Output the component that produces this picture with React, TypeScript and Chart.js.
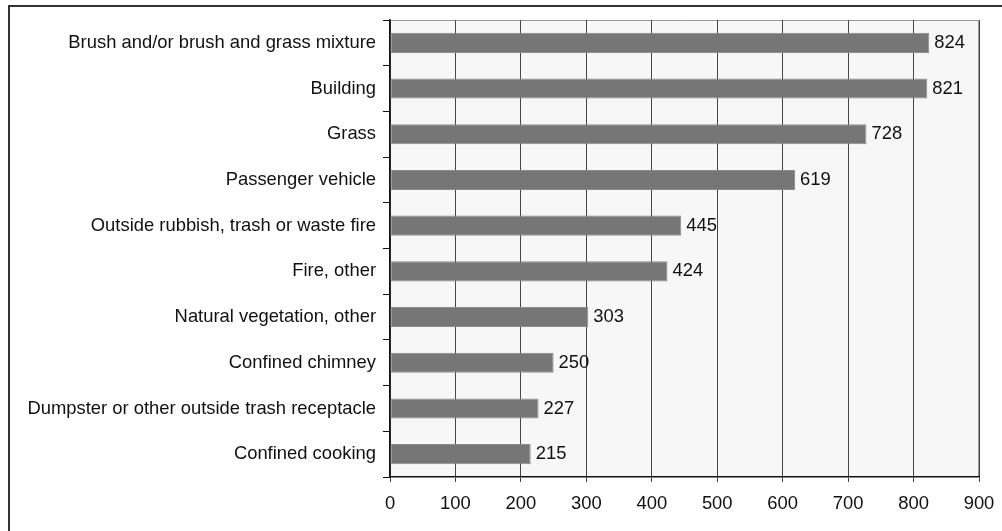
import React, { useEffect, useRef } from "react";
import { Chart, registerables } from "chart.js";

Chart.register(...registerables);

const categories = [
  "Brush and/or brush and grass mixture",
  "Building",
  "Grass",
  "Passenger vehicle",
  "Outside rubbish, trash or waste fire",
  "Fire, other",
  "Natural vegetation, other",
  "Confined chimney",
  "Dumpster or other outside trash receptacle",
  "Confined cooking",
];
const values = [824, 821, 728, 619, 445, 424, 303, 250, 227, 215];
const xMin = 0;
const xMax = 900;
const xStep = 100;

const FONT = "Liberation Sans, Arial, sans-serif";
const FS = 18.4;
const CW = 1030;

const plotBg = {
  id: "plotBg",
  beforeDraw(chart: any) {
    const { ctx, chartArea } = chart;
    if (!chartArea) return;
    ctx.save();
    ctx.fillStyle = "#f7f7f7";
    ctx.fillRect(chartArea.left, chartArea.top, chartArea.right - chartArea.left, chartArea.bottom - chartArea.top);
    ctx.strokeStyle = "#9a9a9a";
    ctx.lineWidth = 1;
    ctx.beginPath();
    ctx.moveTo(chartArea.left, chartArea.top + 0.5);
    ctx.lineTo(chartArea.right - 0.5, chartArea.top + 0.5);
    ctx.lineTo(chartArea.right - 0.5, chartArea.bottom);
    ctx.stroke();
    ctx.restore();
  },
};

const valueLabels = {
  id: "valueLabels",
  afterDatasetsDraw(chart: any) {
    const { ctx } = chart;
    const meta = chart.getDatasetMeta(0);
    ctx.save();
    ctx.font = `${FS}px ${FONT}`;
    ctx.fillStyle = "#111";
    ctx.textAlign = "left";
    ctx.textBaseline = "middle";
    meta.data.forEach((bar: any, i: number) => {
      ctx.fillText(String(values[i]), bar.x + 5, bar.y);
    });
    ctx.restore();
  },
};

export default function App() {
  const ref = useRef<HTMLCanvasElement | null>(null);
  useEffect(() => {
    if (!ref.current) return;
    const chart = new Chart(ref.current, {
      type: "bar",
      data: {
        labels: categories,
        datasets: [
          {
            data: values,
            backgroundColor: "#767676",
            borderColor: "#8c8c8c",
            borderWidth: 1,
            borderSkipped: false,
            barPercentage: 0.44,
            categoryPercentage: 1,
          },
        ],
      },
      options: {
        indexAxis: "y",
        animation: false,
        responsive: false,
        maintainAspectRatio: false,
        layout: { padding: { left: 0, right: CW - 979, top: 20, bottom: 0 } },
        plugins: { legend: { display: false }, tooltip: { enabled: false } },
        scales: {
          x: {
            min: xMin,
            max: xMax,
            ticks: { stepSize: xStep, color: "#111", font: { family: FONT, size: FS }, padding: 11 },
            grid: { color: "#444", lineWidth: 1, tickLength: 5, drawTicks: true },
            border: { color: "#111", width: 1.5 },
            afterFit(scale: any) {
              scale.height = 54;
            },
          },
          y: {
            ticks: { color: "#111", font: { family: FONT, size: FS }, padding: 7, autoSkip: false },
            grid: { drawOnChartArea: false, drawTicks: true, tickLength: 7, color: "#111", offset: true },
            border: { color: "#111", width: 1.5 },
            afterFit(scale: any) {
              scale.width = 390;
            },
          },
        },
      },
      plugins: [plotBg, valueLabels],
    });
    return () => chart.destroy();
  }, []);

  return (
    <div style={{ position: "fixed", left: 0, top: 0, width: 1002, height: 531, overflow: "hidden", background: "#fff" }}>
      <div
        style={{
          position: "absolute",
          left: 8,
          top: 5,
          width: 1100,
          height: 600,
          border: "2px solid #333",
          boxSizing: "border-box",
        }}
      />
      <canvas ref={ref} width={CW} height={531} style={{ position: "absolute", left: 0, top: 0, width: CW, height: 531 }} />
    </div>
  );
}
